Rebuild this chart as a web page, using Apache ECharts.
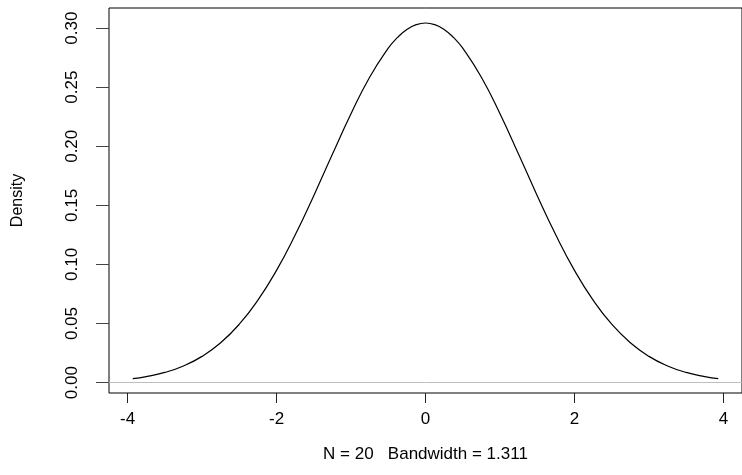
<!DOCTYPE html>
<html>
<head>
<meta charset="utf-8">
<script src="https://cdn.jsdelivr.net/npm/echarts@6/dist/echarts.min.js"></script>
<style>
html,body{margin:0;padding:0;background:#fff;}
#chart{width:742px;height:475px;}
</style>
</head>
<body>
<div id="chart"></div>
<script>
// Density curve
const xs = [-3.93,-3.75,-3.5,-3.25,-3.0,-2.75,-2.5,-2.25,-2.0,-1.75,-1.5,-1.25,-1.0,-0.75,-0.5,-0.375,-0.25,-0.125,0,
            0.125,0.25,0.375,0.5,0.75,1.0,1.25,1.5,1.75,2.0,2.25,2.5,2.75,3.0,3.25,3.5,3.75,3.93];
const density = [0.0034,0.0051,0.0086,0.0141,0.0222,0.0337,0.0494,0.0698,0.0950,0.1249,0.1582,0.1932,0.2275,0.2584,0.2830,0.2921,0.2988,0.3029,0.3043,
                 0.3029,0.2988,0.2921,0.2830,0.2584,0.2275,0.1932,0.1582,0.1249,0.0950,0.0698,0.0494,0.0337,0.0222,0.0141,0.0086,0.0051,0.0034];
const xTicks = [-4,-2,0,2,4];
const yTicks = [0,0.05,0.10,0.15,0.20,0.25,0.30];
const xTitle = 'N = 20   Bandwidth = 1.311';
const yTitle = 'Density';

const FONT = 'Liberation Sans, Arial, sans-serif';
const chart = echarts.init(document.getElementById('chart'), null, {renderer:'canvas'});
chart.setOption({
  animation:false,
  backgroundColor:'#fff',
  grid:{left:109, top:8, bottom:82, right:-4.4, show:true, borderColor:'#000', borderWidth:1, backgroundColor:'transparent'},
  xAxis:{
    type:'value', min:-4.249, max:4.249,
    splitLine:{show:false},
    axisLine:{show:false, onZero:false},
    axisTick:{show:true, length:10, inside:false, customValues:xTicks, lineStyle:{color:'#222', width:1}},
    axisLabel:{customValues:xTicks, color:'#000', fontFamily:FONT, fontSize:17, margin:18,
      formatter:v=>String(v)},
    name:xTitle, nameLocation:'middle', nameGap:53,
    nameTextStyle:{color:'#000', fontFamily:FONT, fontSize:17}
  },
  yAxis:{
    type:'value', min:-0.0088, max:0.317,
    splitLine:{show:false},
    axisLine:{show:false, onZero:false},
    axisTick:{show:true, length:13, inside:false, customValues:yTicks, lineStyle:{color:'#444', width:1}},
    axisLabel:{customValues:yTicks, rotate:90, color:'#000', fontFamily:FONT, fontSize:17, margin:28,
      formatter:v=>v.toFixed(2)},
    name:yTitle, nameLocation:'middle', nameRotate:90, nameGap:83,
    nameTextStyle:{color:'#000', fontFamily:FONT, fontSize:16}
  },
  series:[{
    type:'line',
    data:xs.map((x,i)=>[x,density[i]]),
    smooth:true,
    showSymbol:false,
    lineStyle:{color:'#000', width:1.2},
    markLine:{
      silent:true, symbol:['none','none'], label:{show:false},
      lineStyle:{color:'#bebebe', width:1, type:'solid'},
      data:[{yAxis:0}]
    }
  }]
});
</script>
</body>
</html>
